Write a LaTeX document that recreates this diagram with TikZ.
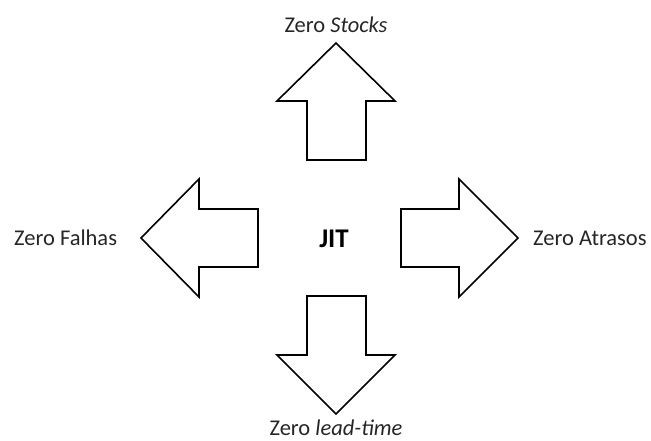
\documentclass[tikz,border=0pt]{standalone}
\usepackage{fontspec}
\setmainfont{Carlito}
\begin{document}
\begin{tikzpicture}[x=1pt,y=-1pt,
  arrowshape/.style={draw=black,line width=1.6pt,fill=white,line join=miter},
  lbl/.style={inner sep=0pt,font=\fontsize{22.5}{26}\selectfont,text=black!85}]
\useasboundingbox (0,0) rectangle (651,441);
% up
\draw[arrowshape] (307,160) -- (307,101) -- (277,101) -- (336,43) -- (395,101) -- (366,101) -- (366,160) -- cycle;
% down
\draw[arrowshape] (307,296) -- (307,355) -- (277,355) -- (336,414) -- (395,355) -- (366,355) -- (366,296) -- cycle;
% left
\draw[arrowshape] (258,209) -- (199,209) -- (199,179) -- (141,238) -- (199,297) -- (199,267) -- (258,267) -- cycle;
% right
\draw[arrowshape] (401,209) -- (459,209) -- (459,179) -- (518,238) -- (459,297) -- (459,267) -- (401,267) -- cycle;
\node[lbl,font=\fontsize{27}{30}\selectfont\bfseries,text=black] (jit) at (334,238.5) {JIT};
\node[lbl] (up) at (336,25) {Zero \textit{Stocks}};
\node[lbl] (down) at (336,428) {Zero \textit{lead-time}};
\node[lbl,anchor=west] (left) at (14,238) {Zero Falhas};
\node[lbl,anchor=west] (right) at (533,238) {Zero Atrasos};
\end{tikzpicture}
\end{document}
